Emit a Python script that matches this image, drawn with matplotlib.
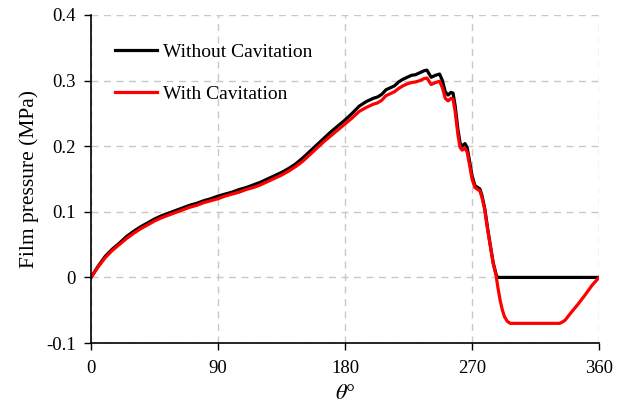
import numpy as np
import matplotlib
matplotlib.use("Agg")
import matplotlib.pyplot as plt

# Circumferential film pressure, angle in degrees, pressure in MPa
theta_nocav = [0, 5, 10, 15, 20, 25, 30, 35, 40, 45, 50, 55, 60, 65, 70, 75, 80, 85, 90,
               95, 100, 105, 110, 115, 120, 125, 130, 135, 140, 145, 150, 155, 160, 165,
               170, 175, 180, 185, 190, 195, 200, 203, 206, 209, 212, 215, 218, 221, 224,
               227, 230, 233, 236, 238, 241, 244, 247, 249, 251, 253, 255, 256.5, 258,
               260, 261.5, 263, 265, 266.5, 268, 270, 272, 274, 275.5, 277, 279, 281,
               283, 285, 287, 288, 300, 320, 340, 360]
p_nocav = [0.000, 0.017, 0.032, 0.043, 0.052, 0.062, 0.070, 0.077, 0.083, 0.089, 0.094,
           0.098, 0.102, 0.106, 0.110, 0.113, 0.117, 0.120, 0.124, 0.127, 0.130, 0.134,
           0.137, 0.141, 0.145, 0.150, 0.155, 0.160, 0.166, 0.173, 0.182, 0.192, 0.202,
           0.212, 0.222, 0.231, 0.240, 0.250, 0.261, 0.268, 0.273, 0.275, 0.279, 0.286,
           0.289, 0.292, 0.298, 0.302, 0.305, 0.308, 0.309, 0.312, 0.315, 0.316, 0.305,
           0.308, 0.310, 0.300, 0.283, 0.278, 0.282, 0.281, 0.262, 0.225, 0.205, 0.200,
           0.204, 0.198, 0.180, 0.155, 0.140, 0.137, 0.135, 0.125, 0.105, 0.075, 0.048,
           0.022, 0.005, 0.000, 0.000, 0.000, 0.000, 0.000]

theta_cav = [0, 5, 10, 15, 20, 25, 30, 35, 40, 45, 50, 55, 60, 65, 70, 75, 80, 85, 90,
             95, 100, 105, 110, 115, 120, 125, 130, 135, 140, 145, 150, 155, 160, 165,
             170, 175, 180, 185, 190, 195, 200, 203, 206, 209, 212, 215, 218, 221, 224,
             227, 230, 233, 236, 238, 241, 244, 247, 249, 251, 253, 255, 256.5, 258,
             260, 261.5, 263, 265, 266.5, 268, 270, 272, 274, 275.5, 277, 279, 281,
             283, 285, 287, 288.5, 290, 291.5, 293, 295, 297, 300, 315, 332, 334, 336,
             340, 345, 350, 355, 360]
p_cav = [0.000, 0.016, 0.030, 0.041, 0.050, 0.059, 0.067, 0.074, 0.080, 0.086, 0.091,
         0.095, 0.099, 0.103, 0.107, 0.110, 0.114, 0.117, 0.120, 0.124, 0.127, 0.130,
         0.134, 0.137, 0.141, 0.146, 0.151, 0.156, 0.162, 0.169, 0.177, 0.187, 0.197,
         0.207, 0.216, 0.225, 0.234, 0.243, 0.253, 0.259, 0.264, 0.266, 0.270, 0.277,
         0.280, 0.283, 0.288, 0.292, 0.295, 0.297, 0.298, 0.300, 0.303, 0.304, 0.294,
         0.297, 0.299, 0.289, 0.273, 0.269, 0.273, 0.272, 0.253, 0.217, 0.198, 0.194,
         0.197, 0.191, 0.174, 0.150, 0.137, 0.134, 0.132, 0.122, 0.103, 0.073, 0.047,
         0.021, 0.003, -0.018, -0.036, -0.050, -0.060, -0.067, -0.070, -0.070, -0.070,
         -0.070, -0.068, -0.065, -0.054, -0.041, -0.027, -0.012, 0.000]

x_ticks = [0, 90, 180, 270, 360]
y_ticks = [-0.1, 0, 0.1, 0.2, 0.3, 0.4]
y_tick_labels = ["-0.1", "0", "0.1", "0.2", "0.3", "0.4"]

plt.rcParams["font.family"] = ["Liberation Serif", "DejaVu Serif"]
plt.rcParams["mathtext.fontset"] = "stix"

fig = plt.figure(figsize=(6.26, 4.05), dpi=100)
ax = fig.add_axes([0.1454, 0.153, 0.8116, 0.810])

ax.plot(theta_nocav, p_nocav, color="black", lw=2.3, label="Without Cavitation",
        solid_joinstyle="round")
ax.plot(theta_cav, p_cav, color="#ff0000", lw=2.3, label="With Cavitation",
        solid_joinstyle="round")

ax.set_xlim(0, 360)
ax.set_ylim(-0.1, 0.4)
ax.set_xticks(x_ticks)
ax.set_yticks(y_ticks)
ax.set_yticklabels(y_tick_labels)
ax.tick_params(axis="both", direction="out", length=5, width=1, labelsize=13.5,
               color="black")
ax.tick_params(axis="x", pad=7)
ax.tick_params(axis="y", pad=6)

ax.grid(True, color="#c8c8c8", linestyle=(0, (5, 4)), linewidth=1.0)
ax.set_axisbelow(True)

for side in ("top", "right"):
    ax.spines[side].set_visible(False)
for side in ("left", "bottom"):
    ax.spines[side].set_linewidth(1.2)

ax.set_ylabel("Film pressure (MPa)", fontsize=15.5, labelpad=5)
ax.set_xlabel(r"$\mathit{\theta}$°", fontsize=16, labelpad=6)

ax.legend(loc="upper left", bbox_to_anchor=(0.012, 0.968), frameon=False, fontsize=14,
          handlelength=2.2, handletextpad=0.3, labelspacing=1.25, borderaxespad=0.5)

fig.savefig("out.png", dpi=100)
